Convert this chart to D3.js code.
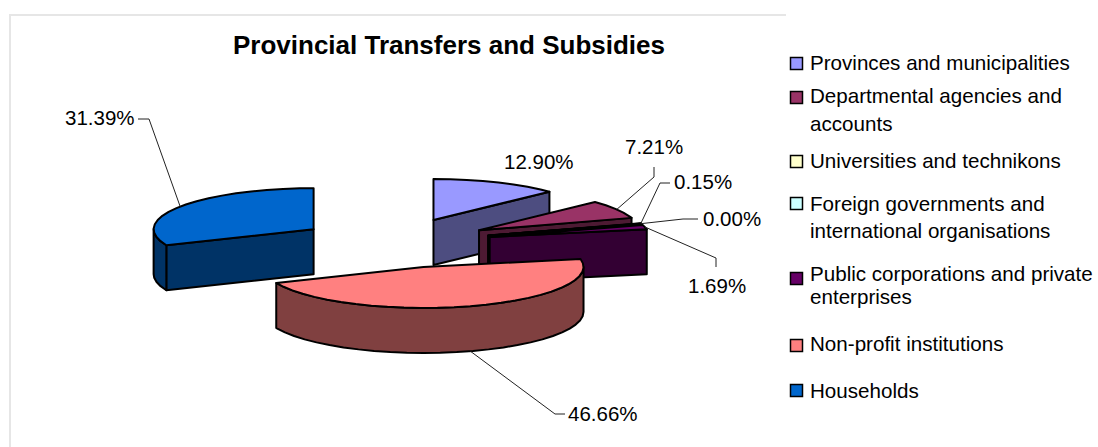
<!DOCTYPE html>
<html>
<head>
<meta charset="utf-8">
<script src="https://cdnjs.cloudflare.com/ajax/libs/d3/7.8.5/d3.min.js"></script>
<style>
  html, body { margin: 0; padding: 0; background: #fff; }
  svg { display: block; }
  text { font-family: "Liberation Sans", Arial, sans-serif; fill: #000; }
</style>
</head>
<body>
<svg id="chart" width="1098" height="447"></svg>
<script>
// Chart content
const chartTitle = "Provincial Transfers and Subsidies";
const categories = [
  "Provinces and municipalities",
  "Departmental agencies and accounts",
  "Universities and technikons",
  "Foreign governments and international organisations",
  "Public corporations and private enterprises",
  "Non-profit institutions",
  "Households"
];
const shares = [12.90, 7.21, 0.15, 0.00, 1.69, 46.66, 31.39];
const topColors = ["#9999ff", "#993366", "#ffffcc", "#ccffff", "#660066", "#ff8080", "#0066cc"];

// Legend text, broken the way the legend column wraps it
const legendLines = [
  ["Provinces and municipalities"],
  ["Departmental agencies and", "accounts"],
  ["Universities and technikons"],
  ["Foreign governments and", "international organisations"],
  ["Public corporations and private", "enterprises"],
  ["Non-profit institutions"],
  ["Households"]
];
const legendBaselines = [[70], [103, 131], [168], [211, 238], [281, 304], [351], [398]];
const legendSwatchTops = [57, 91, 155, 197, 272, 339, 384];

// Percentage labels: text anchor and, where present, the elbow of the leader line
const labelLayout = [
  { x: 504, y: 169, elbow: null },
  { x: 625, y: 154, elbow: [[654, 167], [654, 177]] },
  { x: 674, y: 189, elbow: [[670, 183], [660, 183]] },
  { x: 703, y: 226, elbow: [[698, 219], [683, 219]] },
  { x: 688, y: 293, elbow: [[716, 267], [716, 258]] },
  { x: 568, y: 421, elbow: [[565, 414], [555, 414]] },
  { x: 65,  y: 125, elbow: [[138, 119], [149, 119]] }
];

// Paint order, back to front
const paintOrder = [0, 6, 1, 2, 3, 4, 5];

// Pie geometry on the page
const pieCentre = { x: 395, y: 243 };
const radiusX = 160, radiusY = 41, depth = 45;
const explode = 0.61;      // how far each slice is pulled from the centre
const arcStep = 6;         // degrees per chord on the rims

const svg = d3.select("#chart");

// Frame on the top and left of the plot area
const frame = svg.append("g").attr("fill", "none").attr("stroke", "#e6e6e6").attr("stroke-width", 2);
frame.append("path").attr("d", d3.line()([[786, 15], [10, 15], [10, 447]]));

svg.append("text")
  .attr("x", 449).attr("y", 54)
  .attr("text-anchor", "middle")
  .attr("font-size", 26).attr("font-weight", "bold")
  .text(chartTitle);

// Angle scale from pie radians to degrees, clockwise from twelve o'clock
const slices = d3.pie().sort(null).value(d => d)(shares);
const toDeg = d3.scaleLinear().domain([0, 2 * Math.PI]).range([0, 360]);
const rad = d => d * Math.PI / 180;

// Position on the tilted disc, relative to a slice's centre
function disc(theta) {
  return [radiusX * Math.sin(rad(theta)), -radiusY * Math.cos(rad(theta))];
}

const model = slices.map((s, i) => {
  const start = toDeg(s.startAngle), end = toDeg(s.endAngle), mid = (start + end) / 2;
  const off = disc(mid);
  return {
    i, start, end, mid,
    cx: pieCentre.x + explode * off[0],
    cy: pieCentre.y + explode * off[1]
  };
});

function rim(m, from, to, dy) {
  const pts = [];
  for (let t = from; t < to; t += arcStep) pts.push(t);
  pts.push(to);
  return pts.map(t => { const p = disc(t); return [m.cx + p[0], m.cy + p[1] + dy]; });
}

const line = d3.line();
const closed = pts => line(pts) + "Z";

function face(g, d, fill) {
  g.append("path").attr("d", d).attr("fill", fill)
    .attr("stroke", "#000").attr("stroke-width", 2).attr("stroke-linejoin", "round");
}

const pieLayer = svg.append("g");
paintOrder.forEach(idx => {
  const m = model[idx];
  const g = pieLayer.append("g");
  const base = d3.rgb(topColors[idx]);
  const side = d3.rgb(base.r / 2, base.g / 2, base.b / 2).formatHex();

  const cutFace = theta => {
    const p = disc(theta);
    const a = [m.cx, m.cy], b = [m.cx + p[0], m.cy + p[1]];
    face(g, closed([a, b, [b[0], b[1] + depth], [a[0], a[1] + depth]]), side);
  };
  // Only the cut faces turned towards the viewer are drawn
  if (m.start > 180 && m.start < 360) cutFace(m.start);
  if (m.end > 0 && m.end < 180) cutFace(m.end);

  // Outer wall for the part of the rim on the near side
  const wallFrom = Math.max(m.start, 90), wallTo = Math.min(m.end, 270);
  if (wallTo > wallFrom) {
    const topEdge = rim(m, wallFrom, wallTo, 0);
    const lowEdge = rim(m, wallFrom, wallTo, depth).reverse();
    face(g, closed(topEdge.concat(lowEdge)), side);
  }

  // Top surface
  face(g, closed([[m.cx, m.cy]].concat(rim(m, m.start, m.end, 0))), topColors[idx]);
});

// Percentage labels and their leader lines, which end on each slice's mid-rim
const labels = svg.append("g");
model.forEach(m => {
  const lay = labelLayout[m.i];
  labels.append("text").attr("x", lay.x).attr("y", lay.y)
    .attr("font-size", 20.5).text(shares[m.i].toFixed(2) + "%");
  if (lay.elbow) {
    const p = disc(m.mid);
    const nearSide = m.mid > 90 && m.mid < 270;
    const tip = [m.cx + p[0], m.cy + p[1] + (nearSide ? depth : 0)];
    labels.append("path")
      .attr("d", line(lay.elbow.concat([tip])))
      .attr("fill", "none").attr("stroke", "#222").attr("stroke-width", 1);
  }
});

// Legend
const legend = svg.append("g");
categories.forEach((name, i) => {
  legend.append("rect")
    .attr("x", 790.5).attr("y", legendSwatchTops[i] + 0.5)
    .attr("width", 12).attr("height", 12)
    .attr("fill", topColors[i]).attr("stroke", "#000").attr("stroke-width", 1.5);
  legendLines[i].forEach((txt, j) => {
    legend.append("text").attr("x", 810).attr("y", legendBaselines[i][j])
      .attr("font-size", 20.6).text(txt);
  });
});
</script>
</body>
</html>
